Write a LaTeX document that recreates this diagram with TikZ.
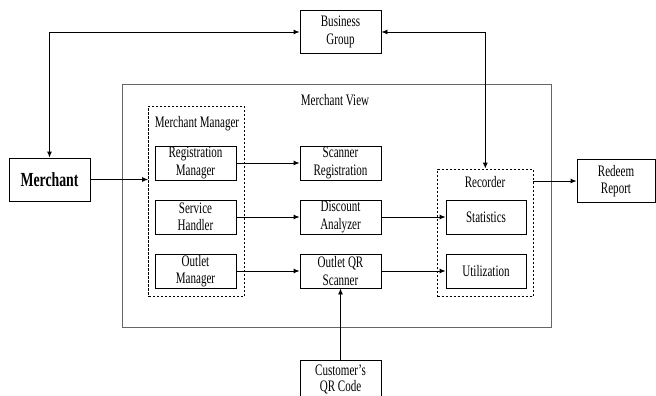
\documentclass[tikz,border=0pt]{standalone}
\usepackage{fontspec}
\setmainfont{Liberation Serif}[FakeStretch=0.69]
\usetikzlibrary{arrows.meta,positioning}

\tikzset{
  txt/.style={font=\fontsize{16}{17.5}\selectfont},
  box/.style={draw, line width=0.9pt, minimum width=81pt, minimum height=34pt,
    inner sep=1pt, align=center, txt},
  tallbox/.style={box, minimum height=43pt},
  group/.style={draw, line width=0.8pt, dash pattern=on 2.5pt off 1.5pt,
    inner sep=0pt},
  link/.style={line width=0.9pt, -{Latex[length=6pt,width=5pt]}},
  twoway/.style={line width=0.9pt,
    {Latex[length=6pt,width=5pt]}-{Latex[length=6pt,width=5pt]}},
}

\begin{document}
\begin{tikzpicture}[x=1pt, y=-1pt]
  \useasboundingbox (0,0) rectangle (656,396);
  \clip (0,0) rectangle (656,396);

  % outer frame of the view
  \draw[black!60, line width=1pt] (122,84.3) rectangle (551,327);
  \node[txt] (viewtitle) at (335,100) {Merchant View};

  % dashed groups
  \node[group, minimum width=95.5pt, minimum height=190.7pt] (mm) at (196.25,201.35) {};
  \node[txt] (mmtitle) at (197,124) {Merchant Manager};
  \node[group, minimum width=95.4pt, minimum height=127.7pt] (rec) at (485.3,232.85) {};
  \node[txt] (rectitle) at (485,182) {Recorder};

  % outside boxes
  \node[tallbox] (bg) at (340.5,32) {Business\\Group};
  \node[tallbox, font=\fontsize{20}{22}\selectfont\bfseries] (merchant) at (49.5,179.5) {Merchant};
  \node[tallbox, minimum width=78pt] (redeem) at (616,181) {Redeem\\Report};
  \node[tallbox, minimum height=39pt, font=\fontsize{16}{16.5}\selectfont] (customer) at (340.5,379.5) {Customer's\\QR Code};

  % merchant manager column
  \node[box] (regman) at (195.5,163) {Registration\\Manager};
  \node[box] (service) at (195.5,217) {Service\\Handler};
  \node[box] (outman) at (195.5,271) {Outlet\\Manager};

  % middle column
  \node[box] (scanreg) at (340.5,163) {Scanner\\Registration};
  \node[box] (discount) at (340.5,217) {Discount\\Analyzer};
  \node[box] (qrscan) at (340.5,271) {Outlet QR\\Scanner};

  % recorder column
  \node[box, minimum width=80pt] (stats) at (486,217) {Statistics};
  \node[box, minimum width=80pt] (util) at (486,271) {Utilization};

  % connectors
  \draw[twoway] (bg.west) -| (merchant.north);
  \draw[twoway] (bg.east) -| (rec.north);
  \draw[link] (merchant.east) -- (merchant.east -| mm.west);
  \draw[link] (regman) -- (scanreg);
  \draw[link] (service) -- (discount);
  \draw[link] (outman) -- (qrscan);
  \draw[link] (discount) -- (stats);
  \draw[link] (qrscan) -- (util);
  \draw[link] (redeem.west -| rec.east) -- (redeem.west);
  \draw[link] (customer) -- (qrscan);

\end{tikzpicture}
\end{document}
